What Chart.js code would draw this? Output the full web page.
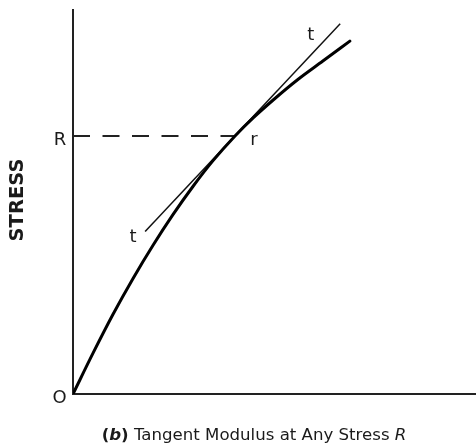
<!DOCTYPE html>
<html>
<head>
<meta charset="utf-8">
<script src="https://cdn.jsdelivr.net/npm/chart.js@4/dist/chart.umd.min.js"></script>
<style>
  html, body { margin: 0; padding: 0; background: #fff; }
  #c { display: block; }
</style>
</head>
<body>
<canvas id="c" width="476" height="446"></canvas>
<script>
// ---- data ----
const strain = [0, 5.0, 9.9, 14.9, 19.9, 24.8, 29.8, 34.7, 40.2, 44.7, 49.6, 55.8, 62.0, 68.7];
const stress = [0, 10.7, 20.7, 30.1, 38.8, 46.7, 54.1, 60.7, 67.2, 71.9, 76.5, 81.9, 86.7, 91.9];
const rStrain = 40.2;          // point r on the curve
const rStress = 67.2;          // stress level R
const tangentStrain = [17.9, 66.3];
const tangentStress = [42.3, 96.4];
const axisMax = [100, 100];    // x max, y max
const pointLabels = ['O', 'R', 'r', 't', 't'];
const yTitle = 'STRESS';
const captionRuns = [
  { text: '(', style: 'bold' },
  { text: 'b', style: 'bold italic' },
  { text: ')', style: 'bold' },
  { text: ' Tangent Modulus at Any Stress ', style: '' },
  { text: 'R', style: 'italic' }
];

const FONT = '"DejaVu Sans", Verdana, sans-serif';
Chart.defaults.font.family = FONT;

const curveData = strain.map((v, i) => ({ x: v, y: stress[i] }));
const tangentData = tangentStrain.map((v, i) => ({ x: v, y: tangentStress[i] }));
const rLineData = [{ x: 0, y: rStress }, { x: rStrain, y: rStress }];

const labelPlugin = {
  id: 'figureLabels',
  afterDraw(chart) {
    const { ctx, scales: { x, y } } = chart;
    ctx.save();
    ctx.fillStyle = '#1a1a1a';
    ctx.font = '18px ' + FONT;
    ctx.textAlign = 'center';
    ctx.textBaseline = 'alphabetic';
    // O at origin
    ctx.fillText(pointLabels[0], x.getPixelForValue(0) - 13.5, y.getPixelForValue(0) + 9);
    // R on the axis
    ctx.fillText(pointLabels[1], x.getPixelForValue(0) - 13, y.getPixelForValue(rStress) + 9);
    // r at the point
    ctx.fillText(pointLabels[2], x.getPixelForValue(rStrain) + 19, y.getPixelForValue(rStress) + 9);
    // t at tangent ends
    ctx.fillText(pointLabels[3], x.getPixelForValue(tangentStrain[0]) - 12, y.getPixelForValue(tangentStress[0]) + 10);
    ctx.fillText(pointLabels[4], x.getPixelForValue(tangentStrain[1]) - 29.5, y.getPixelForValue(tangentStress[1]) + 16);

    // y title
    ctx.save();
    ctx.translate(18, 200);
    ctx.rotate(-Math.PI / 2);
    ctx.font = 'bold 19.5px ' + FONT;
    ctx.textBaseline = 'middle';
    ctx.fillText(yTitle, 0, 0);
    ctx.restore();

    // caption with mixed styles
    ctx.textAlign = 'left';
    const size = '16.6px ';
    let total = 0;
    const widths = captionRuns.map(r => {
      ctx.font = (r.style ? r.style + ' ' : '') + size + FONT;
      const w = ctx.measureText(r.text).width;
      total += w;
      return w;
    });
    let cx = 254 - total / 2;
    captionRuns.forEach((r, i) => {
      ctx.font = (r.style ? r.style + ' ' : '') + size + FONT;
      ctx.fillText(r.text, cx, 440);
      cx += widths[i];
    });
    ctx.restore();
  }
};

new Chart(document.getElementById('c'), {
  type: 'scatter',
  data: {
    datasets: [
      {
        label: 'stress-strain',
        data: curveData,
        showLine: true,
        borderColor: '#000',
        borderWidth: 3,
        pointRadius: 0,
        cubicInterpolationMode: 'monotone',
        borderCapStyle: 'round'
      },
      {
        label: 'tangent',
        data: tangentData,
        showLine: true,
        borderColor: '#111',
        borderWidth: 1.5,
        pointRadius: 0
      },
      {
        label: 'R level',
        data: rLineData,
        showLine: true,
        borderColor: '#222',
        borderWidth: 2,
        borderDash: [17, 12.5],
        pointRadius: 0
      }
    ]
  },
  options: {
    responsive: false,
    animation: false,
    devicePixelRatio: 1,
    layout: { padding: { left: 73, top: 10, right: 0, bottom: 52 } },
    plugins: { legend: { display: false }, tooltip: { enabled: false }, title: { display: false } },
    scales: {
      x: {
        type: 'linear', min: 0, max: axisMax[0],
        grid: { display: false, drawTicks: false },
        ticks: { display: false },
        border: { display: true, color: '#222', width: 2 }
      },
      y: {
        type: 'linear', min: 0, max: axisMax[1],
        grid: { display: false, drawTicks: false },
        ticks: { display: false },
        border: { display: true, color: '#222', width: 2 }
      }
    }
  },
  plugins: [labelPlugin]
});
</script>
</body>
</html>
